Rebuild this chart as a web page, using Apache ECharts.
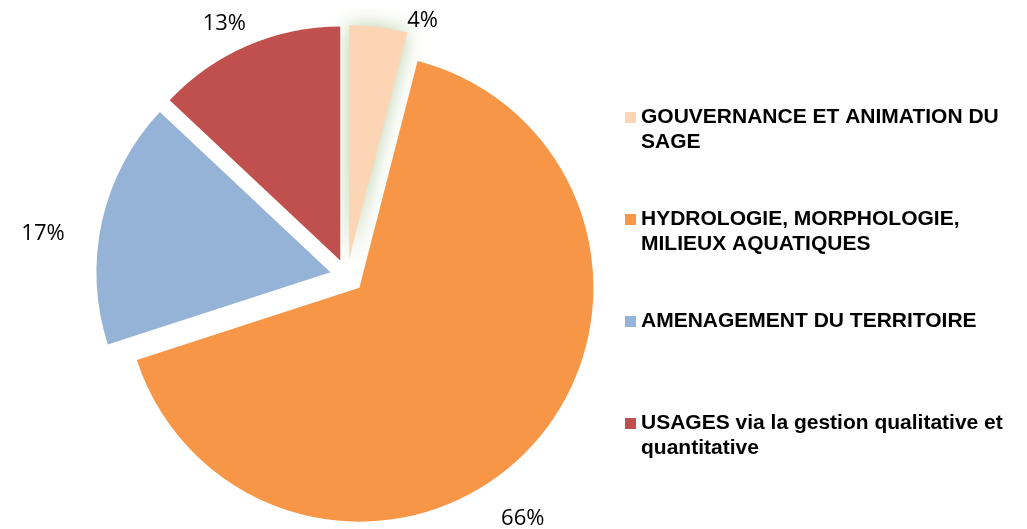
<!DOCTYPE html>
<html>
<head>
<meta charset="utf-8">
<script src="https://cdn.jsdelivr.net/npm/echarts@6/dist/echarts.min.js"></script>
<style>
  html, body { margin: 0; padding: 0; background: #fff; }
  #chart { width: 1027px; height: 529px; }
</style>
</head>
<body>
<div id="chart"></div>
<script>
// Répartition par thème (en %)
const categories = [
  'GOUVERNANCE ET ANIMATION DU SAGE',
  'HYDROLOGIE, MORPHOLOGIE, MILIEUX AQUATIQUES',
  'AMENAGEMENT DU TERRITOIRE',
  'USAGES via la gestion qualitative et quantitative'
];
const shares = [4, 66, 17, 13];
// Legend text, broken over two lines
const legendText = [
  'GOUVERNANCE ET ANIMATION DU\nSAGE',
  'HYDROLOGIE, MORPHOLOGIE,\nMILIEUX AQUATIQUES',
  'AMENAGEMENT DU TERRITOIRE\n ',
  'USAGES via la gestion qualitative et\nquantitative'
];
const colors = ['#FCD5B5', '#F79646', '#95B3D7', '#C0504D'];

// Label placement around each exploded slice: [length, length2]
const labelLines = [[6, 23], [103, -109], [-58, 89], [23.5, -13]];

// Square legend marker sitting at the top of a 11x36 box (first text line)
const markerIcon = 'path://M0,0L11,0L11,11L0,11Z M0,36';

const chart = echarts.init(document.getElementById('chart'), null, { renderer: 'canvas' });

const data = categories.map((name, i) => ({
  name: name,
  value: shares[i],
  selected: true,
  itemStyle: i === 0
    ? { color: colors[i], shadowBlur: 20, shadowColor: 'rgba(180,204,160,0.95)' }
    : { color: colors[i] },
  labelLine: { show: false, length: labelLines[i][0], length2: labelLines[i][1] }
}));

chart.setOption({
  animation: false,
  backgroundColor: '#ffffff',
  legend: {
    orient: 'vertical',
    left: 625,
    top: 105,
    padding: 0,
    itemGap: 52,
    itemWidth: 11,
    itemHeight: 36,
    icon: markerIcon,
    selectedMode: false,
    data: categories,
    formatter: name => legendText[categories.indexOf(name)],
    textStyle: {
      fontFamily: '"Liberation Sans", Arial, sans-serif',
      fontWeight: 'bold',
      fontSize: 21,
      lineHeight: 25,
      color: '#000'
    }
  },
  series: [{
    type: 'pie',
    center: [347, 276],
    radius: [0, 234],
    startAngle: 90,
    clockwise: true,
    selectedMode: 'multiple',
    selectedOffset: 17,
    avoidLabelOverlap: false,
    percentPrecision: 0,
    itemStyle: { borderWidth: 0 },
    select: { itemStyle: { borderWidth: 0 } },
    emphasis: { disabled: true },
    label: {
      show: true,
      position: 'outside',
      formatter: '{d}%',
      fontFamily: '"Open Sans", "Noto Sans", sans-serif',
      fontSize: 22,
      color: '#000',
      distanceToLabelLine: 5
    },
    labelLine: { show: false },
    data: data
  }]
});
</script>
</body>
</html>
